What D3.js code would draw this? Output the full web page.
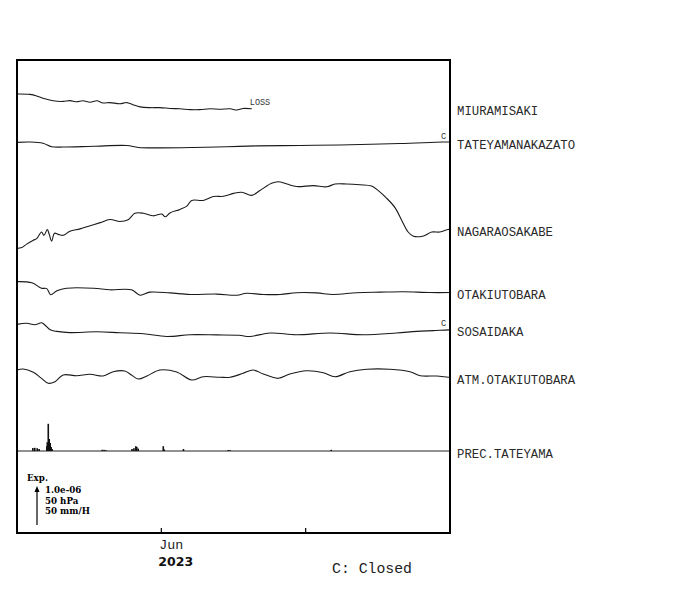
<!DOCTYPE html>
<html><head><meta charset="utf-8">
<script src="https://cdn.jsdelivr.net/npm/d3@7"></script>
<style>body{margin:0;background:#fff}svg{display:block}</style>
</head><body><div id="chart"></div>
<script>
// ---------- DATA (days since 2023-05-01, values) ----------
const stationNames = ["MIURAMISAKI","TATEYAMANAKAZATO","NAGARAOSAKABE","OTAKIUTOBARA","SOSAIDAKA","ATM.OTAKIUTOBARA","PREC.TATEYAMA"];
// strain, units of 1e-8 (relative)
const miuramisaki = [[1,0],[3.7,-1],[5.1,-5],[6.4,-11],[8.5,-17.5],[10.6,-19],[12.0,-17],[13.4,-20],[14.7,-17.5],[16.2,-21],[17.6,-17.5],[18.9,-23],[20.3,-22],[22.4,-25],[23.8,-22],[25.1,-27.5],[26.6,-33],[28.6,-35],[30.7,-35],[32.8,-37],[34.9,-38],[37.0,-40],[39.0,-40],[41.1,-38],[43.2,-39],[45.3,-38],[46.7,-41],[48.0,-37],[49.8,-38]];
const tateyamanakazato = [[1,-1],[3.7,0],[6.4,-3],[8.2,-12],[10.6,-13],[16.8,-11],[23.8,-9],[26.2,-14],[30.7,-15],[37.6,-14],[44.6,-12],[50.8,-10],[59.8,-9],[68.1,-7.5],[80.6,-4],[89.5,0],[91,0]];
const nagaraosakabe = [[1,-1],[2,1],[3,10],[4.4,20],[5.1,24],[6.1,41],[6.6,32.5],[7.3,47],[7.7,35],[8.2,17.5],[8.8,38],[9.6,35],[10.6,32.5],[12.0,43],[14.1,49],[16.2,57],[18.3,65],[20.3,73],[22.4,68],[24.1,72.5],[25.5,89],[27.3,89],[29.3,82.5],[31.1,87],[31.8,80],[32.8,90],[34.9,99],[36.3,107.5],[37.3,122],[39.7,122],[41.8,132],[43.9,132.5],[46.0,140],[47.7,143],[49.8,135],[51.5,147.5],[53.9,166],[55.3,170],[57.1,164],[59.1,157.5],[62.6,160],[65.4,157],[67.1,164],[69.5,164],[72.3,162],[74.7,159],[76.1,147],[77.8,128],[79.6,103],[81.0,70],[82.3,41],[83.4,30],[85.5,31],[87.2,41],[88.9,41],[90.6,47.5],[91,47.5]];
const otakiutobara = [[1,1],[4.1,-2],[6.1,-16],[7.2,-17],[8.0,-32.5],[9.3,-22.5],[11.3,-16],[16.9,-16],[20.3,-20],[24.8,-20],[26.6,-34],[28.6,-26],[32.8,-28],[37.0,-32],[42.5,-31],[46.7,-34],[48.7,-29],[52.2,-32],[55.7,-32],[59.1,-27.5],[63.3,-28],[66.7,-32],[71.6,-27.5],[76.5,-26],[81.3,-25],[86.8,-27],[91,-27]];
const sosaidaka = [[1,-1],[3.0,2],[4.7,-2],[6.1,3],[6.8,-2.5],[7.9,-15],[9.3,-19],[12.0,-22],[17.6,-20],[22.4,-22.5],[27.3,-25],[32.1,-32],[37.0,-27.5],[42.5,-28],[47.2,-29],[49.4,-32],[53.6,-23],[59.1,-27.5],[66.1,-23],[73.0,-27.5],[79.9,-23],[84.1,-19],[87.5,-17],[90.6,-15],[91,-15]];
// atmospheric pressure, hPa (relative)
const atmOtakiutobara = [[1,0],[2.3,1.25],[4.4,-2.9],[6.1,-10.4],[7.5,-16.6],[8.9,-14.6],[10.6,-6.25],[13.4,-7.1],[16.2,-5.4],[18.9,-7.5],[21.0,-2.1],[23.4,-1.25],[24.8,-6.25],[26.2,-11.25],[28.0,-7.5],[30.7,0],[34.2,-2.5],[37.3,-12.5],[39.7,-8.4],[43.2,-9.1],[45.3,-9.1],[48.0,-4.1],[50.1,0],[52.2,-5],[55.3,-10.4],[57.7,-5],[61.2,-0.9],[64.7,-3.4],[67.1,-8.4],[70.2,-2.1],[73.7,0.9],[78.5,0.9],[82.7,-2.1],[84.8,-7.1],[88.2,-7.5],[90.6,-9.1],[91,-9.1]];
// precipitation, mm/H
const precTateyama = [[4.3,3.75],[4.7,4],[5.2,3.5],[5.6,2.5],[7.2,6],[7.3,11],[7.5,34],[7.7,15],[7.9,10],[8.1,5],[8.3,2.5],[18.7,1.5],[19.1,1.5],[19.5,1],[24.9,2.5],[25.3,3.5],[25.7,6],[25.9,5],[26.2,3],[31.4,6],[31.6,2],[35.6,2.5],[44.9,1.2],[45.3,1],[66.3,1.5]];
const tickMonths = ["Jun","Jul"];
const tickLabels = ["Jun"];
const yearLabel = "2023";
const scaleTexts = ["1.0e-06","50 hPa","50 mm/H"];
const lossLabel = "LOSS";
const closedMark = "C";
const noteText = "C: Closed";

// ---------- LAYOUT ----------
const W = 700, H = 590;
const frame = {left:17, top:60, right:450, bottom:533};
const anchors = [94, 142, 248, 282, 324, 370, 451];
const t0 = new Date(2023, 4, 1);
const toDate = d => new Date(t0.getTime() + d * 864e5);

const svg = d3.select("#chart").append("svg").attr("width", W).attr("height", H)
  .style("background", "#fff");

const x = d3.scaleTime().domain([toDate(1), toDate(91)]).range([frame.left, frame.right]);
const strainScale = d3.scaleLinear().domain([0, 100]).range([0, 39]);   // 1.0e-06
const hpaScale = d3.scaleLinear().domain([0, 50]).range([0, 40]);       // 50 hPa
const rainScale = d3.scaleLinear().domain([0, 50]).range([0, 40]);      // 50 mm/H

const series = [
  {data: miuramisaki, s: strainScale, loss: true},
  {data: tateyamanakazato, s: strainScale, closed: true},
  {data: nagaraosakabe, s: strainScale},
  {data: otakiutobara, s: strainScale},
  {data: sosaidaka, s: strainScale, closed: true},
  {data: atmOtakiutobara, s: hpaScale}
];

const g = svg.append("g");
series.forEach((sr, i) => {
  const a = anchors[i];
  const line = d3.line().x(d => x(toDate(d[0]))).y(d => a - sr.s(d[1])).curve(d3.curveCatmullRom.alpha(0.5));
  g.append("path").datum(sr.data).attr("d", line)
    .attr("fill", "none").attr("stroke", "#1a1a1a").attr("stroke-width", 1.1);
  const last = sr.data[sr.data.length - 1];
  const ly = a - sr.s(last[1]);
  g.append("text").attr("x", 457).attr("y", ly + 6.5).text(stationNames[i])
    .attr("font-family", "Liberation Mono, monospace").attr("font-size", 12.3).attr("fill", "#2a2a2a");
  if (sr.loss) {
    g.append("text").attr("x", x(toDate(last[0])) - 2).attr("y", ly - 4).text(lossLabel)
      .attr("font-family", "Liberation Mono, monospace").attr("font-size", 8.5).attr("fill", "#333");
  }
  if (sr.closed) {
    g.append("text").attr("x", frame.right - 9).attr("y", ly - 3.5).text(closedMark)
      .attr("font-family", "Liberation Mono, monospace").attr("font-size", 8.5).attr("fill", "#333");
  }
});

// precipitation
const pBase = anchors[6];
g.append("line").attr("x1", frame.left).attr("x2", frame.right).attr("y1", pBase).attr("y2", pBase)
  .attr("stroke", "#222").attr("stroke-width", 1);
g.selectAll("rect.prec").data(precTateyama).join("rect").attr("class", "prec")
  .attr("x", d => x(toDate(d[0])) - 0.8).attr("width", 1.6)
  .attr("y", d => pBase - rainScale(d[1])).attr("height", d => rainScale(d[1]))
  .attr("fill", "#111");
g.append("text").attr("x", 457).attr("y", pBase + 7).text(stationNames[6])
  .attr("font-family", "Liberation Mono, monospace").attr("font-size", 12.3).attr("fill", "#2a2a2a");

// frame
svg.append("rect").attr("x", frame.left).attr("y", frame.top)
  .attr("width", frame.right - frame.left).attr("height", frame.bottom - frame.top)
  .attr("fill", "none").attr("stroke", "#000").attr("stroke-width", 2);

// time ticks
const tickDates = tickMonths.map((m, i) => new Date(2023, 5 + i, 1));
svg.selectAll("line.tick").data(tickDates).join("line").attr("class", "tick")
  .attr("x1", d => x(d)).attr("x2", d => x(d)).attr("y1", frame.bottom).attr("y2", frame.bottom - 5)
  .attr("stroke", "#000").attr("stroke-width", 1.2);
svg.selectAll("text.tl").data(tickLabels).join("text").attr("class", "tl")
  .attr("x", (d, i) => x(tickDates[i]) - 2).attr("y", 549).text(d => d)
  .attr("font-family", "Liberation Mono, monospace").attr("font-size", 13.3).attr("fill", "#222");
svg.append("text").attr("x", x(tickDates[0]) - 3).attr("y", 566).text(yearLabel)
  .attr("font-family", "DejaVu Sans, sans-serif").attr("font-weight", "bold").attr("font-size", 12.5).attr("fill", "#111");
svg.append("text").attr("x", 332).attr("y", 573).text(noteText)
  .attr("font-family", "Liberation Mono, monospace").attr("font-size", 14.8).attr("fill", "#222");

// scale indicator
const arrowBottom = 525;
const arrowTop = arrowBottom - strainScale(100);
svg.append("line").attr("x1", 37).attr("x2", 37).attr("y1", arrowBottom).attr("y2", arrowTop + 4)
  .attr("stroke", "#000").attr("stroke-width", 1.2);
svg.append("path").attr("d", `M37,${arrowTop} L34.5,${arrowTop + 6} L39.5,${arrowTop + 6} Z`).attr("fill", "#000");
svg.append("text").attr("x", 27).attr("y", 481).text("Exp.")
  .attr("font-family", "DejaVu Serif, serif").attr("font-weight", "bold").attr("font-size", 8.7);
svg.selectAll("text.sc").data(scaleTexts).join("text").attr("class", "sc")
  .attr("x", 45).attr("y", (d, i) => 493 + i * 10.5).text(d => d)
  .attr("font-family", "DejaVu Serif, serif").attr("font-weight", "bold").attr("font-size", 8.7);
</script></body></html>
